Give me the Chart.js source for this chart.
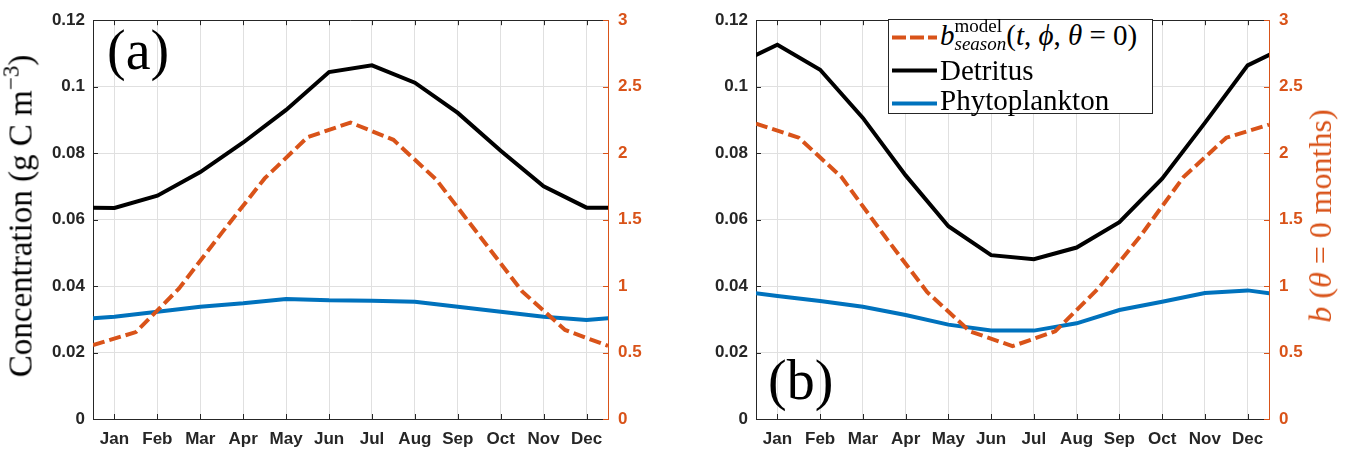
<!DOCTYPE html>
<html>
<head>
<meta charset="utf-8">
<title>Seasonal concentration</title>
<script src="https://cdn.jsdelivr.net/npm/chart.js@4.4.1/dist/chart.umd.min.js"></script>
<style>
  html, body { margin: 0; padding: 0; background: #fff; }
  #fig { position: relative; width: 1346px; height: 452px; overflow: hidden;
         font-family: "Liberation Serif", "DejaVu Serif", serif; color: #000; }
  #fig canvas { position: absolute; top: 0; }
  #panel-a { left: 0; }
  #panel-b { left: 676px; }
  .ytitle { position: absolute; white-space: nowrap; line-height: 1; font-size: 33px;
            transform: translate(-50%, -50%) rotate(-90deg); }
  .ytitle.right { font-size: 32px; color: #D95319; }
  .sup3 { font-size: 0.7em; position: relative; top: -0.55em; line-height: 0; }
  .tag { position: absolute; white-space: nowrap; line-height: 1; font-size: 56px; }
  #legend { position: absolute; left: 888px; top: 19px; width: 265px; height: 95px;
            box-sizing: border-box; border: 1px solid #262626; background: #fff; }
  #legend .row { position: absolute; left: 51px; white-space: nowrap; line-height: 1; font-size: 29px; }
  #legend svg { position: absolute; left: 3px; top: 0; }
  #legend .sup, #legend .sub { position: relative; font-size: 19px; line-height: 0; }
  #legend .sup { top: -13px; }
  #legend .sub { top: 5px; font-style: italic; }
</style>
</head>
<body>
<div id="fig">
  <canvas id="panel-a" width="660" height="452"></canvas>
  <canvas id="panel-b" width="670" height="452"></canvas>

  <div class="ytitle" style="left:21px; top:216px;">Concentration (g C m<span class="sup3">−3</span>)</div>
  <div class="ytitle right" style="left:1320px; top:216px;"><i>b</i> (<i>θ</i> = 0 months)</div>

  <div class="tag" style="left:107px; top:22px;">(a)</div>
  <div class="tag" style="left:768px; top:352px;">(b)</div>

  <div id="legend">
    <svg width="48" height="93">
      <line x1="0" y1="17.5" x2="45" y2="17.5" stroke="#D95319" stroke-width="4" stroke-dasharray="14 4"></line>
      <line x1="0" y1="50.5" x2="45" y2="50.5" stroke="#000" stroke-width="4"></line>
      <line x1="0" y1="83.5" x2="45" y2="83.5" stroke="#0072BD" stroke-width="4"></line>
    </svg>
    <div class="row" style="top:1px;"><i>b</i><span class="sup" id="sup-model">model</span><span class="sub" id="sub-season">season</span>(<i>t</i>, <i>ϕ</i>, <i>θ</i> = 0)</div>
    <div class="row" style="top:36px;">Detritus</div>
    <div class="row" style="top:66px;">Phytoplankton</div>
  </div>
</div>

<script>
  // ── Data ───────────────────────────────────────────────────
  const months = ["Jan", "Feb", "Mar", "Apr", "May", "Jun", "Jul", "Aug", "Sep", "Oct", "Nov", "Dec"];
  const monthPos = [1, 2, 3, 4, 5, 6, 7, 8, 9, 10, 11, 12];
  const halfMonthPos = [0.5, 1.5, 2.5, 3.5, 4.5, 5.5, 6.5, 7.5, 8.5, 9.5, 10.5, 11.5, 12.5];

  const leftTicks = [0, 0.02, 0.04, 0.06, 0.08, 0.1, 0.12];
  const leftTickLabels = ["0", "0.02", "0.04", "0.06", "0.08", "0.1", "0.12"];
  const rightTicks = [0, 0.5, 1, 1.5, 2, 2.5, 3];
  const rightTickLabels = ["0", "0.5", "1", "1.5", "2", "2.5", "3"];

  // panel (a)
  const detritusA = [0.0635, 0.0672, 0.0743, 0.0832, 0.0930, 0.1044, 0.1064, 0.1012, 0.0921, 0.0807, 0.0700, 0.0636];
  const phytoA    = [0.0308, 0.0323, 0.0338, 0.0348, 0.0361, 0.0357, 0.0356, 0.0353, 0.0338, 0.0323, 0.0308, 0.0298];
  const bSeasonA  = [0.556, 0.654, 0.98, 1.40, 1.81, 2.12, 2.23, 2.10, 1.80, 1.38, 0.96, 0.67, 0.55];

  // panel (b)
  const detritusB = [0.1126, 0.1051, 0.0906, 0.0733, 0.0580, 0.0493, 0.0481, 0.0516, 0.0592, 0.0723, 0.0891, 0.1064];
  const phytoB    = [0.0370, 0.0355, 0.0338, 0.0313, 0.0284, 0.0266, 0.0266, 0.0288, 0.0328, 0.0353, 0.0379, 0.0387];
  const bSeasonB  = [2.222, 2.116, 1.82, 1.38, 0.956, 0.66, 0.548, 0.66, 0.98, 1.38, 1.82, 2.116, 2.215];

  const ORANGE = "#D95319";
  const BLUE = "#0072BD";
  const AXIS = "#262626";
  const GRID = "#e0e0e0";
  const TICK_FONT = { family: "'Liberation Sans', Arial, sans-serif", size: 17, weight: "bold" };

  // monthly values are periodic: Dec before Jan and Jan after Dec, clipped at the axes
  function wrapMonthly(vals) {
    const pts = vals.map((v, i) => ({ x: monthPos[i], y: v }));
    pts.unshift({ x: monthPos[0] - 1, y: vals[vals.length - 1] });
    pts.push({ x: monthPos[monthPos.length - 1] + 1, y: vals[0] });
    return pts;
  }

  // MATLAB style box: top border and inward tick marks
  const boxPlugin = {
    id: "matlabBox",
    afterDraw(chart) {
      const { ctx, chartArea: a, scales } = chart;
      const len = 5;
      ctx.save();
      ctx.lineWidth = 1;
      ctx.strokeStyle = AXIS;
      ctx.beginPath();
      ctx.moveTo(a.left, Math.round(a.top) + 0.5);
      ctx.lineTo(a.right, Math.round(a.top) + 0.5);
      scales.x.ticks.forEach((t) => {
        const px = Math.round(scales.x.getPixelForValue(t.value)) + 0.5;
        ctx.moveTo(px, a.bottom);
        ctx.lineTo(px, a.bottom - len);
        ctx.moveTo(px, a.top);
        ctx.lineTo(px, a.top + len);
      });
      scales.y.ticks.forEach((t) => {
        const py = Math.round(scales.y.getPixelForValue(t.value)) + 0.5;
        ctx.moveTo(a.left, py);
        ctx.lineTo(a.left + len, py);
      });
      ctx.stroke();
      ctx.strokeStyle = ORANGE;
      ctx.beginPath();
      scales.y2.ticks.forEach((t) => {
        const py = Math.round(scales.y2.getPixelForValue(t.value)) + 0.5;
        ctx.moveTo(a.right, py);
        ctx.lineTo(a.right - len, py);
      });
      ctx.stroke();
      ctx.restore();
    },
  };

  function makePanel(id, leftWidth, rightWidth, bSeason, detritus, phyto) {
    return new Chart(document.getElementById(id), {
      type: "line",
      data: {
        datasets: [
          {
            label: "b season",
            data: halfMonthPos.map((x, i) => ({ x: x, y: bSeason[i] })),
            yAxisID: "y2",
            borderColor: ORANGE,
            borderWidth: 4,
            borderDash: [12, 5],
            clip: 0,
          },
          {
            label: "Detritus",
            data: wrapMonthly(detritus),
            yAxisID: "y",
            borderColor: "#000",
            borderWidth: 4,
            clip: 0,
          },
          {
            label: "Phytoplankton",
            data: wrapMonthly(phyto),
            yAxisID: "y",
            borderColor: BLUE,
            borderWidth: 4,
            clip: 0,
          },
        ],
      },
      options: {
        responsive: false,
        animation: false,
        devicePixelRatio: 1,
        layout: { padding: { top: 14, left: 0, right: 0, bottom: 0 } },
        elements: { point: { radius: 0 }, line: { tension: 0, fill: false } },
        plugins: { legend: { display: false }, tooltip: { enabled: false } },
        scales: {
          x: {
            type: "linear",
            min: 0.5,
            max: 12.5,
            afterBuildTicks: (s) => { s.ticks = monthPos.map((v) => ({ value: v })); },
            afterFit: (s) => { s.height = 33; },
            ticks: {
              autoSkip: false,
              maxRotation: 0,
              padding: 10,
              color: AXIS,
              font: { family: TICK_FONT.family, size: 17, weight: "bold" },
              callback: (v) => months[monthPos.indexOf(v)],
            },
            grid: { color: GRID, drawTicks: false },
            border: { display: true, color: AXIS, width: 1 },
          },
          y: {
            position: "left",
            min: 0,
            max: 0.12,
            afterBuildTicks: (s) => { s.ticks = leftTicks.map((v) => ({ value: v })); },
            afterFit: (s) => { s.width = leftWidth; },
            ticks: {
              padding: 8,
              color: AXIS,
              font: TICK_FONT,
              callback: (v, i) => leftTickLabels[i],
            },
            grid: { color: GRID, drawTicks: false },
            border: { display: true, color: AXIS, width: 1 },
          },
          y2: {
            position: "right",
            min: 0,
            max: 3,
            afterBuildTicks: (s) => { s.ticks = rightTicks.map((v) => ({ value: v })); },
            afterFit: (s) => { s.width = rightWidth; },
            ticks: {
              padding: 10,
              color: ORANGE,
              font: TICK_FONT,
              callback: (v, i) => rightTickLabels[i],
            },
            grid: { drawOnChartArea: false, drawTicks: false },
            border: { display: true, color: ORANGE, width: 1 },
          },
        },
      },
      plugins: [boxPlugin],
    });
  }

  makePanel("panel-a", 93, 52, bSeasonA, detritusA, phytoA);
  makePanel("panel-b", 80, 77, bSeasonB, detritusB, phytoB);

  // stack the legend subscript under the superscript
  const sup = document.getElementById("sup-model");
  const sub = document.getElementById("sub-season");
  sub.style.marginLeft = -sup.getBoundingClientRect().width + "px";
</script>
</body>
</html>
